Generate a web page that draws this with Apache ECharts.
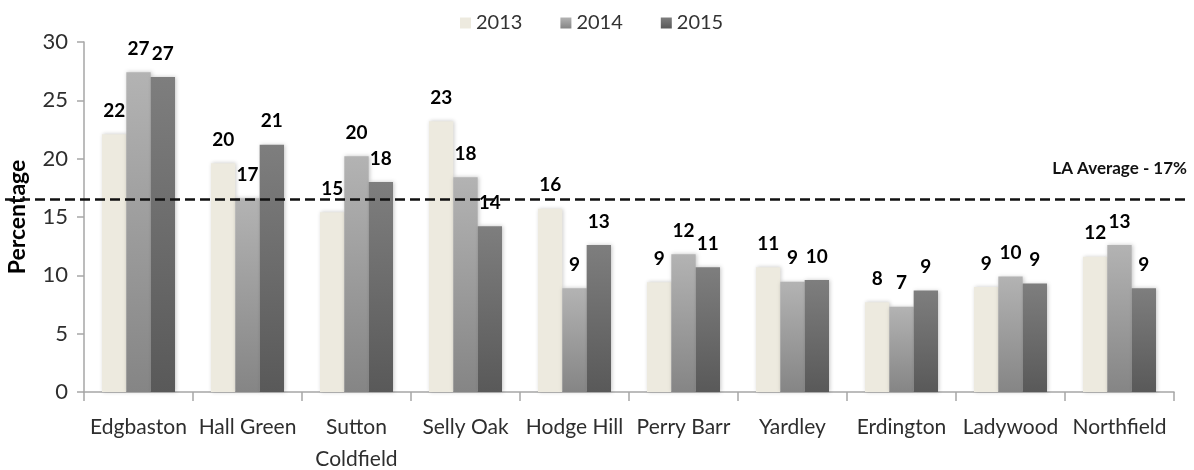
<!DOCTYPE html>
<html>
<head>
<meta charset="utf-8">
<title>Percentage by constituency, 2013–2015</title>
<script src="https://cdn.jsdelivr.net/npm/echarts@6/dist/echarts.min.js"></script>
<style>
  html, body { margin: 0; padding: 0; background: #ffffff; }
  #chart { width: 1194px; height: 470px; }
</style>
</head>
<body>
<div id="chart"></div>
<script>
// Constituencies along the x axis
const categories = [
  'Edgbaston', 'Hall Green', 'Sutton\nColdfield', 'Selly Oak', 'Hodge Hill',
  'Perry Barr', 'Yardley', 'Erdington', 'Ladywood', 'Northfield'
];

// Percentage per constituency and year
const values2013 = [22.1, 19.6, 15.4, 23.2, 15.7, 9.4, 10.7, 7.7, 9.0, 11.6];
const values2014 = [27.4, 16.6, 20.2, 18.4, 8.9, 11.8, 9.45, 7.3, 9.9, 12.6];
const values2015 = [27.0, 21.2, 18.0, 14.2, 12.6, 10.7, 9.6, 8.7, 9.3, 8.9];

// Local authority average (percentage)
const laAverage = 16.5;

// Y axis ticks
const yTicks = [0, 5, 10, 15, 20, 25, 30];

const FONT = 'Lato';
const Y_MIN = yTicks[0];
const Y_MAX = yTicks[yTicks.length - 1];

function vGrad(top, bottom) {
  return new echarts.graphic.LinearGradient(0, 0, 0, 1, [
    { offset: 0, color: top },
    { offset: 1, color: bottom }
  ]);
}

const barLabel = {
  show: true,
  position: 'top',
  distance: 14,
  fontFamily: FONT,
  fontWeight: 'bold',
  fontSize: 19,
  color: '#000',
  formatter: p => Math.round(p.value)
};

const barShadow = {
  shadowBlur: 4,
  shadowColor: 'rgba(0,0,0,0.22)',
  shadowOffsetX: 1
};

function barSeries(name, data, color) {
  return {
    name: name,
    type: 'bar',
    data: data,
    barGap: '0%',
    barCategoryGap: '33%',
    itemStyle: Object.assign({ color: color }, barShadow),
    label: barLabel,
    emphasis: { disabled: true }
  };
}

const chart = echarts.init(document.getElementById('chart'), null, { renderer: 'canvas' });

chart.setOption({
  animation: false,
  textStyle: { fontFamily: FONT },
  legend: {
    data: ['2013', '2014', '2015'],
    top: 8,
    left: 455,
    icon: 'rect',
    itemWidth: 11,
    itemHeight: 11,
    itemGap: 38,
    textStyle: { fontFamily: FONT, fontSize: 20, color: '#333' }
  },
  grid: [
    // main plot
    { left: 84, right: 20, top: 42, bottom: 78, containLabel: false, outerBoundsMode: 'none' },
    // wider band used by the average line, same vertical scale
    { left: 5, right: 4, top: 42, bottom: 78, containLabel: false, outerBoundsMode: 'none' }
  ],
  xAxis: [
    {
      type: 'category',
      gridIndex: 0,
      data: categories,
      axisLine: { lineStyle: { color: '#a6a6a6', width: 1.5 } },
      axisTick: { show: true, length: 9, interval: 0, lineStyle: { color: '#a6a6a6', width: 1.5 } },
      axisLabel: {
        interval: 0,
        margin: 19,
        fontFamily: FONT,
        fontSize: 21,
        lineHeight: 32,
        color: '#2e2e2e'
      }
    },
    { type: 'value', gridIndex: 1, min: 0, max: 1, show: false }
  ],
  yAxis: [
    {
      type: 'value',
      gridIndex: 0,
      min: Y_MIN,
      max: Y_MAX,
      interval: yTicks[1] - yTicks[0],
      name: 'Percentage',
      nameLocation: 'middle',
      nameGap: 55,
      nameTextStyle: { fontFamily: FONT, fontWeight: 'bold', fontSize: 23, color: '#000' },
      axisLine: { show: true, lineStyle: { color: '#a6a6a6', width: 1.5 } },
      axisTick: { show: true, length: 7, lineStyle: { color: '#a6a6a6', width: 1.5 } },
      splitLine: { show: false },
      axisLabel: { margin: 16, fontFamily: FONT, fontSize: 22, color: '#2e2e2e' }
    },
    { type: 'value', gridIndex: 1, min: Y_MIN, max: Y_MAX, show: false }
  ],
  series: [
    barSeries('2013', values2013, '#edeadf'),
    barSeries('2014', values2014, vGrad('#b3b3b3', '#858585')),
    barSeries('2015', values2015, vGrad('#7e7e7e', '#595959')),
    {
      name: 'LA Average',
      type: 'line',
      xAxisIndex: 1,
      yAxisIndex: 1,
      symbol: 'circle',
      symbolSize: 1,
      showSymbol: true,
      itemStyle: { color: 'rgba(0,0,0,0)' },
      silent: true,
      z: 5,
      lineStyle: { color: '#111', width: 2.5, type: [10, 5] },
      data: [
        [0, laAverage],
        {
          value: [1, laAverage],
          label: {
            show: true,
            position: 'top',
            align: 'right',
            distance: 22,
            offset: [-3, 0],
            fontFamily: FONT,
            fontWeight: 'bold',
            fontSize: 17,
            color: '#111',
            formatter: () => 'LA Average - ' + Math.round(laAverage) + '%'
          }
        }
      ]
    }
  ]
});
</script>
</body>
</html>
